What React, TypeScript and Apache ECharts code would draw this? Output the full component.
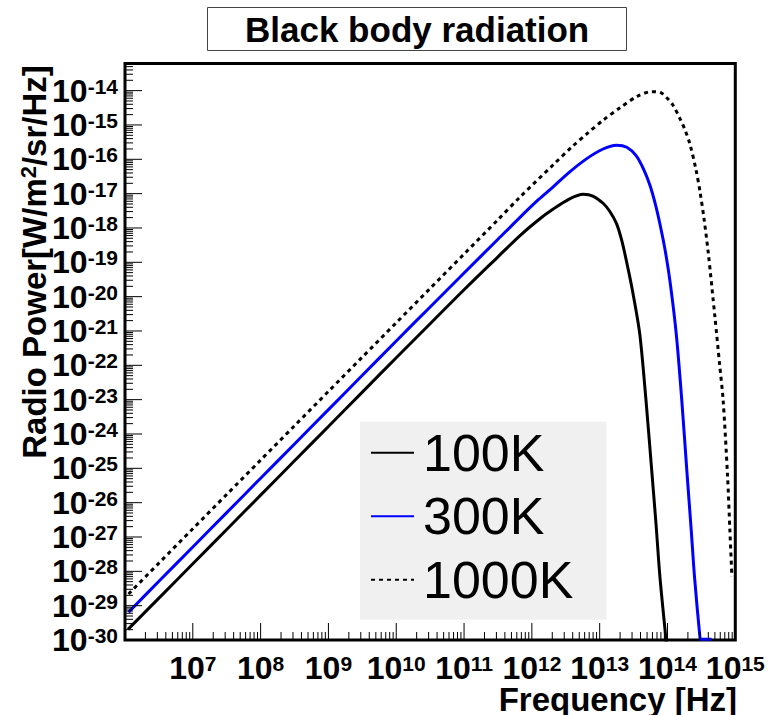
import React, { useEffect, useRef } from "react";
import * as echarts from "echarts";

// log10(frequency [Hz]), log10(radio power [W/m^2/sr/Hz])
const T100: number[][] = [
  [6.044, -29.69], [6.5, -28.78], [7.0, -27.78], [7.5, -26.78], [8.0, -25.78],
  [8.5, -24.78], [9.0, -23.78], [9.5, -22.78], [10.0, -21.78], [10.5, -20.79],
  [11.0, -19.8], [11.5, -18.84], [11.825, -18.22], [12.1, -17.76], [12.315, -17.45],
  [12.55, -17.16], [12.757, -17.02], [12.9, -17.07], [13.05, -17.28], [13.15, -17.52],
  [13.25, -17.88], [13.33, -18.4], [13.42, -19.2], [13.5, -20.0], [13.592, -21.1],
  [13.68, -22.95], [13.765, -25.0], [13.83, -26.6], [13.89, -28.2], [13.976, -29.95],
  [13.99, -30.3],
];
const T300: number[][] = [
  [6.052, -29.19], [6.5, -28.29], [7.0, -27.29], [7.5, -26.29], [8.0, -25.29],
  [8.5, -24.29], [9.0, -23.29], [9.5, -22.29], [10.0, -21.29], [10.5, -20.3],
  [11.0, -19.31], [11.5, -18.33], [11.825, -17.69], [12.1, -17.17], [12.315, -16.8],
  [12.55, -16.38], [12.81, -15.98], [13.05, -15.7], [13.25, -15.59], [13.4, -15.65],
  [13.54, -15.9], [13.65, -16.3], [13.74, -16.75], [13.82, -17.3], [13.89, -17.9],
  [13.97, -18.7], [14.04, -19.6], [14.13, -21.1], [14.21, -23.0], [14.29, -25.2],
  [14.35, -26.8], [14.4, -28.2], [14.48, -29.95], [14.49, -29.98], [14.65, -29.98],
];
const T1000: number[][] = [
  [6.052, -28.66], [6.5, -27.76], [7.0, -26.76], [7.5, -25.76], [8.0, -24.76],
  [8.5, -23.76], [9.0, -22.76], [9.5, -21.76], [10.0, -20.76], [10.5, -19.76],
  [11.0, -18.76], [11.5, -17.76], [11.825, -17.1], [12.315, -16.16], [12.6, -15.62],
  [12.81, -15.26], [13.05, -14.86], [13.3, -14.5], [13.55, -14.17], [13.765, -14.03],
  [13.9, -14.06], [13.985, -14.2], [14.08, -14.42], [14.18, -14.8], [14.26, -15.15],
  [14.33, -15.55], [14.42, -16.3], [14.48, -16.95], [14.54, -17.75], [14.6, -18.7],
  [14.7, -20.6], [14.77, -22.0], [14.82, -23.0], [14.885, -25.2], [14.92, -26.8],
  [14.95, -28.16],
];
const SERIES_NAMES = ["100K", "300K", "1000K"];

const X_MIN = 6;
const X_MAX = 15;
const Y_MIN = -30;
const Y_MAX = -13.21;
const X_DECADES = [6, 7, 8, 9, 10, 11, 12, 13, 14, 15];
const Y_DECADES = [-30, -29, -28, -27, -26, -25, -24, -23, -22, -21, -20, -19, -18, -17, -16, -15, -14, -13];
const MINOR_MULT = [2, 3, 4, 5, 6, 7, 8, 9];

const FONT = '"Liberation Sans", Arial, Helvetica, sans-serif';
const MAJOR_LEN = 17;
const MINOR_LEN = 8;

function buildTicks(decades: number[], lo: number, hi: number): number[][] {
  const out: number[][] = [];
  decades.forEach((d) => {
    if (d >= lo && d <= hi) out.push([d, MAJOR_LEN]);
    MINOR_MULT.forEach((m) => {
      const v = d + Math.log10(m);
      if (v > lo && v < hi) out.push([v, MINOR_LEN]);
    });
  });
  return out;
}

const isInt = (v: number) => Math.abs(v - Math.round(v)) < 1e-6;

const richLabel = {
  b: { fontSize: 32, fontWeight: "bold", fontFamily: FONT, color: "#000", lineHeight: 30 },
  s: { fontSize: 21, fontWeight: "bold", fontFamily: FONT, color: "#000", lineHeight: 12, verticalAlign: "top" },
};

export default function App() {
  const ref = useRef<HTMLDivElement>(null);
  useEffect(() => {
    if (!ref.current) return;
    const chart = echarts.init(ref.current, null, { renderer: "svg" });
    const xTicks = buildTicks(X_DECADES, X_MIN, X_MAX);
    const yTicks = buildTicks(Y_DECADES, Y_MIN, Y_MAX);
    const lineCommon = {
      type: "line",
      symbol: "none",
      showSymbol: false,
      smooth: 0.3,
      z: 3,
    };
    chart.setOption({
      animation: false,
      backgroundColor: "#fff",
      title: {
        text: "Black body radiation",
        left: 207,
        top: 7,
        padding: [4, 38, 4, 38],
        backgroundColor: "#fff",
        borderColor: "#444",
        borderWidth: 1,
        textStyle: { fontSize: 35, fontWeight: "bold", fontFamily: FONT, color: "#000", lineHeight: 36 },
      },
      legend: {
        orient: "vertical",
        left: 360,
        top: 421.7,
        selectedMode: false,
        backgroundColor: "#f0f0f0",
        padding: [5, 33, 14, 10],
        itemWidth: 43,
        itemHeight: 3,
        itemGap: 11.5,
        itemStyle: { opacity: 0 },
        data: SERIES_NAMES,
        textStyle: { fontSize: 52, fontFamily: FONT, color: "#000", lineHeight: 50, padding: [0, 0, 0, 4] },
      },
      grid: {
        left: 125,
        top: 63.5,
        right: 32.7,
        bottom: 75,
        show: true,
        borderColor: "#000",
        borderWidth: 3,
        backgroundColor: "transparent",
      },
      xAxis: {
        type: "value",
        min: X_MIN,
        max: X_MAX,
        interval: 1,
        axisLine: { show: false },
        axisTick: { show: false },
        splitLine: { show: false },
        axisLabel: {
          margin: 13,
          hideOverlap: false,
          showMinLabel: true,
          showMaxLabel: true,
          formatter: (v: number) => (isInt(v) && v > X_MIN ? `{b|10}{s|${Math.round(v)}}` : ""),
          rich: richLabel,
        },
      },
      yAxis: {
        type: "value",
        min: Y_MIN,
        max: Y_MAX,
        interval: 1,
        axisLine: { show: false },
        axisTick: { show: false },
        splitLine: { show: false },
        axisLabel: {
          margin: 7,
          hideOverlap: false,
          formatter: (v: number) => (isInt(v) ? `{b|10}{s|${Math.round(v)}}` : ""),
          rich: richLabel,
        },
      },
      graphic: [
        {
          type: "text",
          x: 34,
          y: 262,
          rotation: Math.PI / 2,
          style: {
            text: "{b|Radio Power[W/m}{s|2}{b|/sr/Hz]}",
            textAlign: "center",
            align: "center",
            textVerticalAlign: "middle",
            verticalAlign: "middle",
            rich: {
              b: { fontSize: 33, fontWeight: "bold", fontFamily: FONT, fill: "#000", color: "#000", lineHeight: 33 },
              s: { fontSize: 22, fontWeight: "bold", fontFamily: FONT, fill: "#000", color: "#000", lineHeight: 16, verticalAlign: "top" },
            },
          },
        },
        {
          type: "text",
          x: 737,
          y: 699,
          style: {
            text: "Frequency [Hz]",
            font: `bold 33px ${FONT}`,
            lineHeight: 24,
            fill: "#000",
            textAlign: "right",
            align: "right",
            textVerticalAlign: "middle",
            verticalAlign: "middle",
          },
        },
      ],
      series: [
        {
          ...lineCommon,
          name: SERIES_NAMES[0],
          data: T100,
          lineStyle: { color: "#000", width: 3 },
          itemStyle: { color: "#000" },
        },
        {
          ...lineCommon,
          name: SERIES_NAMES[1],
          data: T300,
          lineStyle: { color: "#0000ff", width: 3 },
          itemStyle: { color: "#0000ff" },
        },
        {
          ...lineCommon,
          name: SERIES_NAMES[2],
          data: T1000,
          lineStyle: { color: "#000", width: 3, type: [4, 4], cap: "butt" },
          itemStyle: { color: "#000" },
        },
        {
          type: "custom",
          name: "xticks",
          data: xTicks,
          silent: true,
          z: 4,
          renderItem: (_p: any, api: any) => {
            const v = api.value(0);
            const len = api.value(1);
            const p = api.coord([v, Y_MIN]);
            return {
              type: "line",
              shape: { x1: p[0], y1: p[1], x2: p[0], y2: p[1] - len },
              style: { stroke: "#000", lineWidth: 1 },
            };
          },
        },
        {
          type: "custom",
          name: "yticks",
          data: yTicks.map((t) => [X_MIN, t[0], t[1]]),
          silent: true,
          z: 4,
          renderItem: (_p: any, api: any) => {
            const v = api.value(1);
            const len = api.value(2);
            const p = api.coord([X_MIN, v]);
            return {
              type: "line",
              shape: { x1: p[0], y1: p[1], x2: p[0] + len, y2: p[1] },
              style: { stroke: "#000", lineWidth: 1 },
            };
          },
        },
      ],
    });
    return () => chart.dispose();
  }, []);
  return <div ref={ref} style={{ position: "fixed", left: 0, top: 0, width: 768, height: 715 }} />;
}
